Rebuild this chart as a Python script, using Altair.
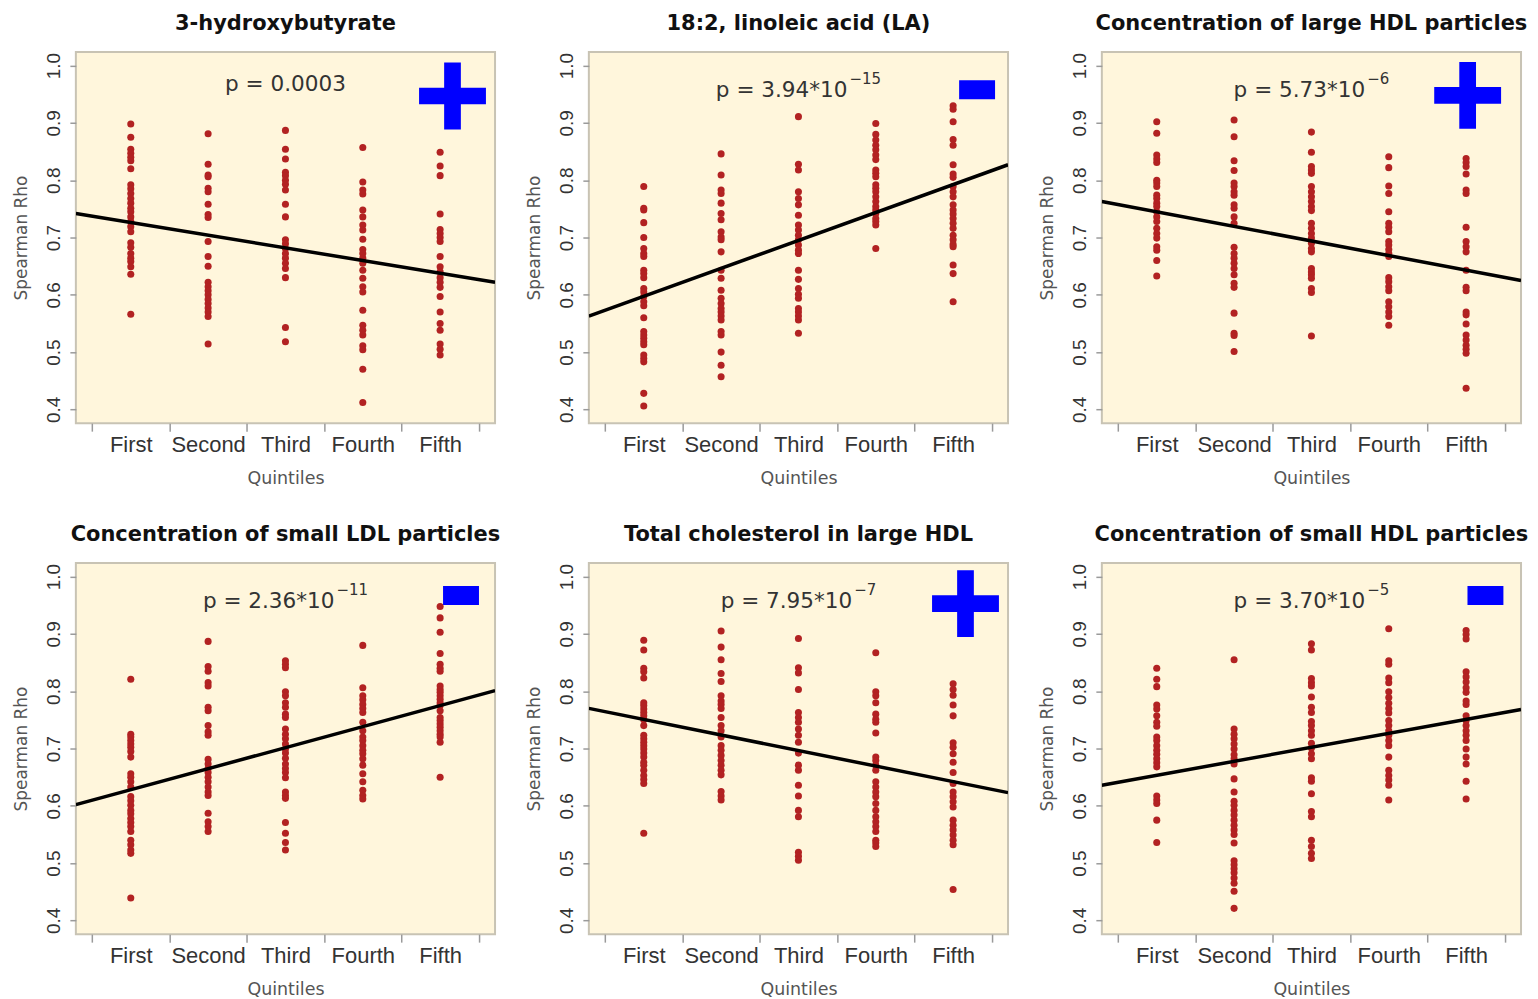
import json
import altair as alt
import pandas as pd

# ---------------- data ----------------
QUINTILES = ["First", "Second", "Third", "Fourth", "Fifth"]

TITLES = [
    "3-hydroxybutyrate",
    "18:2, linoleic acid (LA)",
    "Concentration of large HDL particles",
    "Concentration of small LDL particles",
    "Total cholesterol in large HDL",
    "Concentration of small HDL particles",
]

P_MAIN = ["p = 0.0003", "p = 3.94*10", "p = 5.73*10", "p = 2.36*10", "p = 7.95*10", "p = 3.70*10"]
P_EXP = ["", "\u221215", "\u22126", "\u221211", "\u22127", "\u22125"]
SIGNS = ["+", "-", "+", "-", "+", "-"]

# fitted line values at the left and right edge of each panel
LINE_LEFT = [0.742, 0.563, 0.763, 0.602, 0.770, 0.636]
LINE_RIGHT = [0.622, 0.827, 0.625, 0.801, 0.623, 0.768]

rho_hydroxybutyrate = [
    [0.898, 0.875, 0.854, 0.847, 0.840, 0.834, 0.820, 0.792, 0.785, 0.777, 0.768, 0.760, 0.751, 0.745,
     0.736, 0.728, 0.719, 0.710, 0.691, 0.683, 0.672, 0.664, 0.658, 0.649, 0.636, 0.566],
    [0.881, 0.828, 0.809, 0.806, 0.786, 0.780, 0.758, 0.740, 0.735, 0.693, 0.667, 0.650, 0.622, 0.614,
     0.607, 0.600, 0.592, 0.585, 0.577, 0.570, 0.562, 0.514],
    [0.887, 0.854, 0.837, 0.814, 0.808, 0.800, 0.793, 0.783, 0.758, 0.736, 0.696, 0.689, 0.681, 0.672,
     0.664, 0.655, 0.646, 0.630, 0.543, 0.518],
    [0.857, 0.797, 0.783, 0.776, 0.748, 0.736, 0.722, 0.713, 0.697, 0.679, 0.672, 0.664, 0.655, 0.643,
     0.629, 0.614, 0.605, 0.573, 0.547, 0.538, 0.530, 0.511, 0.504, 0.470, 0.412],
    [0.849, 0.825, 0.808, 0.741, 0.714, 0.707, 0.700, 0.693, 0.667, 0.649, 0.640, 0.630, 0.622, 0.613,
     0.597, 0.570, 0.550, 0.538, 0.514, 0.505, 0.495],
]

rho_linoleic = [
    [0.789, 0.751, 0.748, 0.726, 0.700, 0.681, 0.672, 0.667, 0.643, 0.637, 0.630, 0.611, 0.605, 0.597,
     0.588, 0.581, 0.560, 0.536, 0.530, 0.524, 0.518, 0.513, 0.495, 0.489, 0.483, 0.428, 0.406],
    [0.846, 0.809, 0.783, 0.777, 0.760, 0.742, 0.731, 0.710, 0.701, 0.696, 0.675, 0.643, 0.629, 0.608,
     0.594, 0.585, 0.576, 0.570, 0.563, 0.556, 0.536, 0.530, 0.500, 0.477, 0.457],
    [0.911, 0.828, 0.818, 0.780, 0.768, 0.757, 0.739, 0.722, 0.713, 0.704, 0.696, 0.687, 0.678, 0.672,
     0.643, 0.627, 0.611, 0.601, 0.594, 0.576, 0.570, 0.563, 0.556, 0.533],
    [0.899, 0.880, 0.870, 0.861, 0.853, 0.844, 0.836, 0.818, 0.812, 0.806, 0.792, 0.786, 0.780, 0.771,
     0.763, 0.754, 0.748, 0.742, 0.733, 0.728, 0.722, 0.681],
    [0.930, 0.924, 0.902, 0.871, 0.861, 0.827, 0.811, 0.805, 0.789, 0.780, 0.771, 0.757, 0.748, 0.741,
     0.733, 0.725, 0.716, 0.704, 0.696, 0.688, 0.684, 0.652, 0.637, 0.588],
]

rho_large_hdl = [
    [0.902, 0.882, 0.844, 0.837, 0.831, 0.800, 0.795, 0.789, 0.774, 0.768, 0.760, 0.754, 0.745, 0.736,
     0.728, 0.716, 0.707, 0.699, 0.684, 0.678, 0.660, 0.633],
    [0.905, 0.876, 0.834, 0.817, 0.795, 0.789, 0.780, 0.774, 0.757, 0.751, 0.736, 0.725, 0.683, 0.672,
     0.664, 0.655, 0.646, 0.635, 0.620, 0.613, 0.568, 0.533, 0.529, 0.501],
    [0.884, 0.849, 0.824, 0.818, 0.812, 0.789, 0.780, 0.771, 0.763, 0.754, 0.747, 0.725, 0.716, 0.707,
     0.699, 0.690, 0.681, 0.675, 0.646, 0.640, 0.635, 0.629, 0.611, 0.604, 0.528],
    [0.841, 0.822, 0.790, 0.777, 0.745, 0.725, 0.718, 0.710, 0.693, 0.687, 0.679, 0.672, 0.667, 0.630,
     0.623, 0.614, 0.607, 0.588, 0.579, 0.570, 0.562, 0.547],
    [0.838, 0.831, 0.824, 0.811, 0.783, 0.777, 0.718, 0.693, 0.684, 0.675, 0.643, 0.613, 0.607, 0.570,
     0.565, 0.549, 0.530, 0.521, 0.512, 0.505, 0.498, 0.437],
]

rho_small_ldl = [
    [0.821, 0.725, 0.720, 0.714, 0.708, 0.702, 0.695, 0.685, 0.656, 0.650, 0.642, 0.633, 0.616, 0.609,
     0.601, 0.592, 0.586, 0.578, 0.571, 0.564, 0.555, 0.540, 0.532, 0.523, 0.517, 0.439],
    [0.887, 0.843, 0.835, 0.815, 0.809, 0.772, 0.766, 0.740, 0.729, 0.723, 0.681, 0.673, 0.665, 0.658,
     0.650, 0.642, 0.633, 0.624, 0.618, 0.587, 0.572, 0.564, 0.555],
    [0.853, 0.847, 0.841, 0.799, 0.792, 0.780, 0.772, 0.760, 0.754, 0.734, 0.725, 0.717, 0.708, 0.699,
     0.692, 0.683, 0.673, 0.665, 0.658, 0.649, 0.624, 0.618, 0.613, 0.571, 0.552, 0.536, 0.523],
    [0.880, 0.806, 0.792, 0.785, 0.777, 0.770, 0.763, 0.746, 0.731, 0.720, 0.714, 0.705, 0.697, 0.691,
     0.682, 0.671, 0.656, 0.642, 0.627, 0.618, 0.612],
    [0.948, 0.928, 0.903, 0.866, 0.847, 0.840, 0.835, 0.809, 0.803, 0.798, 0.792, 0.786, 0.780, 0.775,
     0.766, 0.754, 0.749, 0.743, 0.737, 0.731, 0.725, 0.720, 0.711, 0.650],
]

rho_chol_large_hdl = [
    [0.889, 0.872, 0.840, 0.834, 0.823, 0.780, 0.775, 0.769, 0.763, 0.757, 0.750, 0.740, 0.723, 0.717,
     0.711, 0.705, 0.699, 0.692, 0.685, 0.676, 0.671, 0.662, 0.653, 0.646, 0.639, 0.552],
    [0.905, 0.877, 0.855, 0.831, 0.817, 0.792, 0.783, 0.777, 0.770, 0.754, 0.740, 0.731, 0.720, 0.705,
     0.697, 0.688, 0.679, 0.671, 0.662, 0.654, 0.625, 0.617, 0.610],
    [0.892, 0.841, 0.832, 0.803, 0.763, 0.754, 0.746, 0.734, 0.723, 0.711, 0.692, 0.671, 0.662, 0.636,
     0.617, 0.592, 0.581, 0.519, 0.512, 0.505],
    [0.867, 0.799, 0.792, 0.780, 0.760, 0.751, 0.746, 0.727, 0.685, 0.679, 0.671, 0.662, 0.642, 0.633,
     0.624, 0.616, 0.604, 0.592, 0.581, 0.572, 0.564, 0.555, 0.540, 0.535, 0.529],
    [0.813, 0.803, 0.793, 0.776, 0.757, 0.710, 0.702, 0.691, 0.676, 0.658, 0.639, 0.624, 0.616, 0.607,
     0.598, 0.575, 0.566, 0.558, 0.549, 0.540, 0.532, 0.454],
]

rho_small_hdl = [
    [0.840, 0.821, 0.808, 0.776, 0.769, 0.757, 0.746, 0.739, 0.720, 0.714, 0.705, 0.697, 0.690, 0.682,
     0.675, 0.668, 0.617, 0.610, 0.604, 0.575, 0.536],
    [0.855, 0.734, 0.725, 0.717, 0.708, 0.699, 0.689, 0.682, 0.673, 0.647, 0.624, 0.608, 0.601, 0.592,
     0.584, 0.575, 0.566, 0.558, 0.550, 0.535, 0.504, 0.497, 0.490, 0.483, 0.474, 0.465, 0.451, 0.421],
    [0.883, 0.872, 0.822, 0.815, 0.809, 0.790, 0.772, 0.763, 0.747, 0.740, 0.731, 0.723, 0.709, 0.701,
     0.691, 0.682, 0.649, 0.643, 0.621, 0.590, 0.581, 0.540, 0.529, 0.517, 0.508],
    [0.909, 0.853, 0.847, 0.823, 0.815, 0.799, 0.789, 0.779, 0.770, 0.762, 0.749, 0.740, 0.731, 0.723,
     0.714, 0.705, 0.685, 0.662, 0.653, 0.645, 0.636, 0.610],
    [0.906, 0.899, 0.891, 0.834, 0.825, 0.816, 0.806, 0.798, 0.783, 0.777, 0.757, 0.749, 0.740, 0.731,
     0.723, 0.714, 0.699, 0.685, 0.673, 0.643, 0.612],
]

PANELS = [rho_hydroxybutyrate, rho_linoleic, rho_large_hdl,
          rho_small_ldl, rho_chol_large_hdl, rho_small_hdl]

# ---------------- layout / style ----------------
W, H = 420, 372
X_DOMAIN = [0.29, 5.71]
Y_DOMAIN = [0.376, 1.024]
P_X, P_Y = 3.0, 0.945
SIGN_POS = [(5.16, 0.947), (5.31, 0.958), (5.02, 0.948), (5.27, 0.967), (5.16, 0.953), (5.25, 0.967)]
PLUS_PATH = "M-1,-0.25H-0.25V-1H0.25V-0.25H1V0.25H0.25V1H-0.25V0.25H-1Z"
MINUS_PATH = "M-1,-0.53H1V0.53H-1Z"

DOT = "#B22222"
TICK = "#9a9a9a"
LABEL = "#333333"
ATITLE = "#555555"
P_SIZE = 21.6
E_SIZE = 15

x_vals = [0.5, 1, 1.5, 2, 2.5, 3, 3.5, 4, 4.5, 5, 5.5]
label_expr = "datum.value % 1 === 0 ? " + json.dumps(QUINTILES) + "[datum.value - 1] : ''"

x_axis = alt.Axis(
    values=x_vals, labelExpr=label_expr,
    tickOpacity={"condition": {"test": "datum.value % 1 === 0", "value": 0}, "value": 1},
    tickSize=8, tickColor=TICK, tickWidth=1.5, domain=False, grid=False,
    labelFont="Liberation Sans", labelFontSize=22, labelColor=LABEL,
    labelBaseline="alphabetic", labelPadding=20, labelOverlap=False, labelFlush=False, labelBound=False,
    title="Quintiles", titleFont="DejaVu Sans", titleFontSize=17.5, titleFontWeight="normal",
    titleColor=ATITLE, titleX=W / 2, titleY=60, titleBaseline="alphabetic",
)
y_axis = alt.Axis(
    values=[0.4, 0.5, 0.6, 0.7, 0.8, 0.9, 1.0], format=".1f",
    tickSize=6, tickColor=TICK, tickWidth=1.5, domain=False, grid=False,
    labelFont="Liberation Sans", labelFontSize=19, labelColor=LABEL,
    labelAngle=270, labelAlign="center", labelBaseline="alphabetic", labelPadding=10.5,
    labelOverlap=False, labelFlush=False,
    title="Spearman Rho", titleAngle=270, titleFont="DejaVu Sans", titleFontSize=17,
    titleFontWeight="normal", titleColor=ATITLE, titleX=-49.5, titleY=H / 2,
    titleBaseline="alphabetic",
)
xs = alt.Scale(domain=X_DOMAIN, nice=False, zero=False)
ys = alt.Scale(domain=Y_DOMAIN, nice=False, zero=False)


def panel(i):
    rows = [{"q": qi + 1, "rho": v} for qi, vals in enumerate(PANELS[i]) for v in vals]
    df = pd.DataFrame(rows)
    pts = alt.Chart(df).mark_circle(size=50, color=DOT, opacity=1).encode(
        x=alt.X("q:Q", scale=xs, axis=x_axis),
        y=alt.Y("rho:Q", scale=ys, axis=y_axis),
    )
    line_df = pd.DataFrame({"q": X_DOMAIN, "rho": [LINE_LEFT[i], LINE_RIGHT[i]]})
    line = alt.Chart(line_df).mark_line(color="black", strokeWidth=3.5, clip=True).encode(
        x=alt.X("q:Q", scale=xs), y=alt.Y("rho:Q", scale=ys))

    layers = [pts, line]
    main_df = pd.DataFrame({"q": [P_X], "rho": [P_Y if P_EXP[i] else P_Y + 0.011], "t": [P_MAIN[i]]})
    if P_EXP[i]:
        wm = P_SIZE * 6.107
        we = E_SIZE * (0.838 + 0.636 * (len(P_EXP[i]) - 1))
        d = (wm - we - 2) / 2
        main = alt.Chart(main_df).mark_text(
            font="DejaVu Sans", fontSize=P_SIZE, color="#333333", align="right",
            baseline="alphabetic", dx=d).encode(
            x=alt.X("q:Q", scale=xs), y=alt.Y("rho:Q", scale=ys), text="t:N")
        exp_df = pd.DataFrame({"q": [P_X], "rho": [P_Y], "t": [P_EXP[i]]})
        expo = alt.Chart(exp_df).mark_text(
            font="DejaVu Sans", fontSize=E_SIZE, color="#333333", align="left",
            baseline="alphabetic", dx=d + 2, dy=-13.5).encode(
            x=alt.X("q:Q", scale=xs), y=alt.Y("rho:Q", scale=ys), text="t:N")
        layers += [main, expo]
    else:
        main = alt.Chart(main_df).mark_text(
            font="DejaVu Sans", fontSize=P_SIZE, color="#333333", align="center",
            baseline="alphabetic").encode(
            x=alt.X("q:Q", scale=xs), y=alt.Y("rho:Q", scale=ys), text="t:N")
        layers.append(main)

    sx, sy = SIGN_POS[i]
    sign_df = pd.DataFrame({"q": [sx], "rho": [sy], "s": [SIGNS[i]]})
    is_plus = SIGNS[i] == "+"
    sign = alt.Chart(sign_df).mark_point(
        shape=PLUS_PATH if is_plus else MINUS_PATH,
        size=67 * 67 if is_plus else 36 * 36,
        filled=True, color="#0000FF", opacity=1, strokeWidth=0).encode(
        x=alt.X("q:Q", scale=xs), y=alt.Y("rho:Q", scale=ys))
    layers.append(sign)

    return alt.layer(*layers).properties(
        width=W, height=H,
        title=alt.TitleParams(
            TITLES[i], font="DejaVu Sans", fontSize=21, fontWeight="bold", color="#111111",
            anchor="middle", frame="group", offset=1, baseline="alphabetic"),
    )


chart = alt.concat(
    *[panel(i) for i in range(6)], columns=3,
    spacing={"row": 140, "column": 94}, bounds="flush",
).configure_view(
    fill="#FFF6DC", stroke="#C8C3B4", strokeWidth=2,
).properties(
    padding={"left": 3, "top": 3, "right": 0, "bottom": 0},
    background="white",
)

chart.save("out.html", embed_options={"renderer": "svg", "actions": False})
